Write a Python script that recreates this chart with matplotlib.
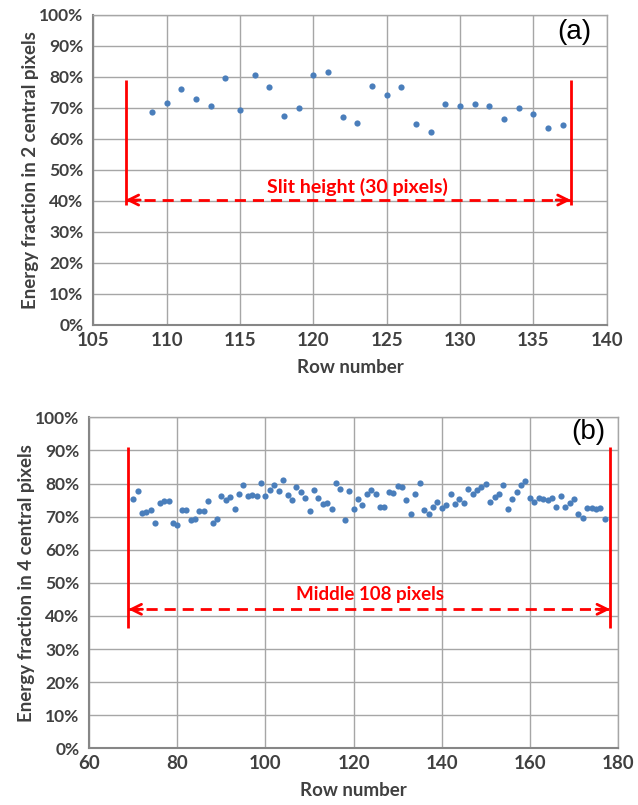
import matplotlib
matplotlib.use("Agg")
import matplotlib.pyplot as plt
from matplotlib.ticker import PercentFormatter, MultipleLocator

# ---------------- data ----------------
rows_a = list(range(109, 138))
frac_a = [68.6, 71.5, 76.0, 73.0, 70.7, 79.7, 69.3, 80.7, 76.7, 67.4,
          70.0, 80.7, 81.5, 67.1, 65.3, 77.1, 74.1, 76.7, 64.9, 62.3,
          71.2, 70.5, 71.2, 70.5, 66.3, 70.0, 67.9, 63.4, 64.6]

rows_b = list(range(70, 178))
frac_b = [75.2, 77.7, 71.0, 71.3, 72.0, 68.1, 74.0, 74.8, 74.8, 68.2,   # 70-79
          67.4, 72.0, 72.0, 69.0, 69.2, 71.6, 71.6, 74.8, 68.0, 69.4,   # 80-89
          76.2, 75.0, 76.0, 72.4, 76.7, 79.5, 76.2, 76.5, 76.2, 80.2,   # 90-99
          76.2, 78.0, 79.6, 77.7, 81.2, 76.5, 74.9, 78.8, 77.4, 75.5,   # 100-109
          71.7, 78.0, 75.7, 73.9, 74.0, 72.4, 80.3, 78.4, 68.9, 77.7,   # 110-119
          72.4, 75.2, 73.5, 76.8, 78.1, 76.7, 73.0, 73.0, 77.5, 77.1,   # 120-129
          79.2, 78.9, 74.9, 70.8, 76.7, 80.3, 72.0, 70.8, 73.0, 74.3,   # 130-139
          72.7, 73.5, 76.8, 73.8, 75.2, 74.2, 78.4, 76.7, 78.0, 79.0,   # 140-149
          79.9, 74.5, 76.0, 76.8, 79.5, 72.4, 75.2, 77.4, 79.5, 80.7,   # 150-159
          75.7, 74.4, 75.5, 75.3, 74.9, 75.7, 73.0, 76.2, 73.0, 74.0,   # 160-169
          75.2, 70.8, 69.7, 72.7, 72.7, 72.2, 72.7, 69.2]               # 170-177

xticks_a = [105, 110, 115, 120, 125, 130, 135, 140]
xticks_b = [60, 80, 100, 120, 140, 160, 180]

ylabel_a = "Energy fraction in 2 central pixels"
ylabel_b = "Energy fraction in 4 central pixels"
xlabel = "Row number"

# ---------------- style ----------------
FONT = "Lato"
TICKC = "#404040"
GRIDC = "#a6a6a6"
DOT = "#4a7ebb"
RED = "#ff0000"

fig = plt.figure(figsize=(6.38, 8.05), dpi=100)
ax_a = fig.add_axes([0.1462, 0.5963, 0.8048, 0.3851])
ax_b = fig.add_axes([0.1398, 0.0704, 0.8289, 0.4112])


def style(ax, xticks, ylabel, ylabel_pad, xlabel_pad):
    ax.set_ylim(0, 1.0)
    ax.yaxis.set_major_locator(MultipleLocator(0.1))
    ax.yaxis.set_major_formatter(PercentFormatter(1.0, decimals=0))
    ax.set_xticks(xticks)
    ax.set_xlim(xticks[0], xticks[-1])
    ax.grid(True, color=GRIDC, lw=1.0)
    ax.set_axisbelow(True)
    for s in ax.spines.values():
        s.set_color(GRIDC)
        s.set_linewidth(1.0)
    ax.spines["left"].set_color("#868686")
    ax.spines["bottom"].set_color("#868686")
    ax.spines["left"].set_linewidth(1.5)
    ax.spines["bottom"].set_linewidth(1.5)
    ax.tick_params(axis="y", length=0, pad=7, labelcolor=TICKC)
    ax.tick_params(axis="x", length=0, pad=5, labelcolor=TICKC)
    for lab in ax.get_xticklabels():
        lab.set_fontfamily(FONT)
        lab.set_fontsize(13.5)
        lab.set_fontweight("bold")
    for lab in ax.get_yticklabels():
        lab.set_fontfamily(FONT)
        lab.set_fontsize(12.5)
        lab.set_fontweight("bold")
    ax.set_xlabel(xlabel, family=FONT, fontsize=13.5, fontweight="bold",
                  color=TICKC, labelpad=xlabel_pad)
    ax.set_ylabel(ylabel, family=FONT, fontsize=13.5, fontweight="bold",
                  color=TICKC, labelpad=ylabel_pad)


def bracket(ax, x0, x1, ytop, ybot, yarrow, headw):
    ax.plot([x0, x0], [ytop, ybot], color=RED, lw=2, solid_capstyle="butt")
    ax.plot([x1, x1], [ytop, ybot], color=RED, lw=2, solid_capstyle="butt")
    ax.plot([x0, x1], [yarrow, yarrow], color=RED, lw=2,
            dashes=(4, 2.5))
    ax.annotate("", xy=(x0, yarrow), xytext=(x0 + headw, yarrow),
                arrowprops=dict(arrowstyle="->", color=RED, lw=2,
                                mutation_scale=18, shrinkA=0, shrinkB=0))
    ax.annotate("", xy=(x1, yarrow), xytext=(x1 - headw, yarrow),
                arrowprops=dict(arrowstyle="->", color=RED, lw=2,
                                mutation_scale=18, shrinkA=0, shrinkB=0))


# ---------------- panel (a) ----------------
ax_a.scatter(rows_a, [v / 100 for v in frac_a], s=20, color=DOT, zorder=3,
             linewidths=0)
style(ax_a, xticks_a, ylabel_a, 0.5, 7)
bracket(ax_a, 107.2, 137.55, 0.79, 0.387, 0.403, 1.0)
ax_a.text(123.0, 0.444, "Slit height (30 pixels)", color=RED, family=FONT,
          fontsize=14, fontweight="bold", ha="center", va="center")
ax_a.text(137.8, 0.945, "(a)", family="Liberation Sans", fontsize=20,
          ha="center", va="center", color="black")

# ---------------- panel (b) ----------------
ax_b.scatter(rows_b, [v / 100 for v in frac_b], s=20, color=DOT, zorder=3,
             linewidths=0)
style(ax_b, xticks_b, ylabel_b, 0.5, 7)
bracket(ax_b, 68.9, 178.2, 0.91, 0.365, 0.42, 3.2)
ax_b.text(123.7, 0.465, "Middle 108 pixels", color=RED, family=FONT,
          fontsize=13.5, fontweight="bold", ha="center", va="center")
ax_b.text(173.2, 0.955, "(b)", family="Liberation Sans", fontsize=20,
          ha="center", va="center", color="black")

fig.savefig("out.png", dpi=100)
